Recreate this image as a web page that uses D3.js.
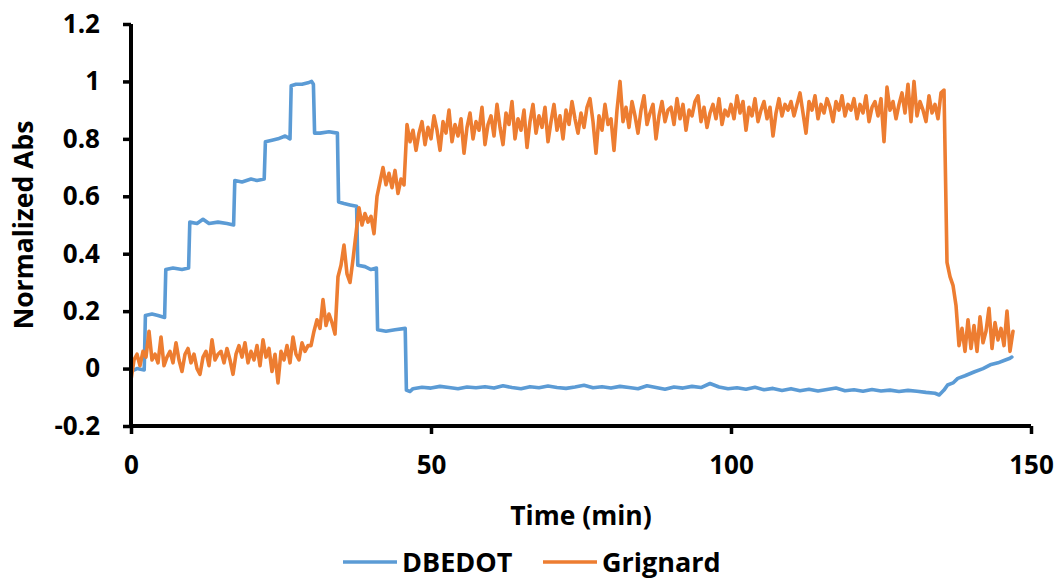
<!DOCTYPE html>
<html><head><meta charset="utf-8">
<script src="https://cdn.jsdelivr.net/npm/d3@7"></script>
<style>
body{margin:0;background:#fff}
svg{display:block}
text{font-family:'Open Sans',sans-serif;font-weight:700;fill:#000}
</style>
</head><body>
<svg id="chart" width="1057" height="580"></svg>
<script>
// ---- data ----
const xTickValues = [0, 50, 100, 150];
const yTickValues = [-0.2, 0, 0.2, 0.4, 0.6, 0.8, 1, 1.2];
const yTickLabels = ["-0.2", "0", "0.2", "0.4", "0.6", "0.8", "1", "1.2"];
const seriesNames = ["DBEDOT", "Grignard"];
const xTitle = "Time (min)";
const yTitle = "Normalized Abs";

// DBEDOT: time (min) / normalized absorbance
const dbTime = [0, 1, 2.2, 2.4, 3.5, 4.5, 5.6, 5.8, 7, 8.5, 9.6, 9.8, 11, 12, 13, 14.5, 16, 17.1, 17.3, 18.5, 20, 21, 22.2, 22.4, 23.5, 24.5, 25.7, 26.5, 26.7, 27.5, 28.5, 29.5, 30.1, 30.4, 30.6, 31.5, 33, 34.4, 34.6, 35.5, 36.5, 37.6, 37.8, 39, 40, 40.9, 41.1, 42.5, 44, 45.7, 45.9,
  46.5, 47, 48.5, 50, 51.5, 53, 54.5, 56, 57.5, 59, 60.5, 62, 63.5, 65, 66.5, 68, 69.5, 71, 72.5, 74, 75.5, 77, 78.5, 80, 81.5, 83, 84.5, 86, 87.5, 89, 90.5, 92, 93.5, 95, 96.5, 98, 99.5,
  101, 102.5, 104, 105.5, 107, 108.5, 110, 111.5, 113, 114.5, 116, 117.5, 119, 120.5, 122, 123.5, 125, 126.5, 128, 129.5, 131, 132.5, 134, 134.7, 135.5, 136.1, 137, 137.8, 139, 140.6, 142, 143.2, 144.5, 145.5, 146.5, 146.8];
const dbValue = [-0.01, 0.0, -0.005, 0.185, 0.19, 0.185, 0.178, 0.345, 0.35, 0.345, 0.35, 0.51, 0.505, 0.52, 0.505, 0.51, 0.505, 0.50, 0.655, 0.65, 0.66, 0.655, 0.66, 0.79, 0.795, 0.80, 0.81, 0.80, 0.985, 0.99, 0.99, 0.995, 1.0, 0.99, 0.82, 0.82, 0.825, 0.82, 0.58, 0.575, 0.57, 0.565, 0.36, 0.355, 0.345, 0.35, 0.135, 0.13, 0.135, 0.14, -0.075,
  -0.08, -0.07, -0.065, -0.068, -0.062, -0.066, -0.07, -0.064, -0.067, -0.063, -0.068, -0.06, -0.066, -0.07, -0.063, -0.067, -0.061, -0.066, -0.069, -0.064, -0.058, -0.067, -0.063, -0.068, -0.062, -0.066, -0.07, -0.06, -0.066, -0.072, -0.064, -0.068, -0.062, -0.066, -0.052, -0.064, -0.07,
  -0.067, -0.072, -0.065, -0.074, -0.069, -0.076, -0.07, -0.077, -0.072, -0.078, -0.073, -0.068, -0.077, -0.074, -0.079, -0.073, -0.078, -0.075, -0.08, -0.076, -0.079, -0.083, -0.086, -0.092, -0.075, -0.057, -0.05, -0.034, -0.025, -0.011, 0.0, 0.013, 0.02, 0.028, 0.036, 0.04];

// Grignard: sampled every 0.5 min from t = 0
const grStart = 0, grStep = 0.5;
const grValue = [
  -0.04, 0.03, 0.05, 0.01, 0.06, 0.04, 0.13, 0.03, 0.05, 0.02,
  0.11, 0.01, 0.04, 0.06, 0.02, 0.09, 0.03, -0.01, 0.05, 0.07,
  0.02, 0.05, 0.00, -0.02, 0.04, 0.06, 0.01, 0.10, 0.03, 0.05,
  0.06, 0.02, 0.07, 0.03, -0.02, 0.05, 0.08, 0.04, 0.09, 0.02,
  0.06, 0.03, 0.08, 0.01, 0.10, 0.04, 0.07, -0.01, 0.05, -0.05,
  0.06, 0.03, 0.08, 0.02, 0.11, 0.05, 0.03, 0.09, 0.06, 0.08,
  0.08, 0.13, 0.17, 0.14, 0.24, 0.15, 0.19, 0.16, 0.12, 0.32,
  0.36, 0.43, 0.33, 0.30, 0.38, 0.47, 0.56, 0.50, 0.54, 0.51,
  0.53, 0.47, 0.60, 0.65, 0.70, 0.64, 0.68, 0.63, 0.69, 0.61,
  0.66, 0.64, 0.85, 0.79, 0.83, 0.76, 0.82, 0.86, 0.78, 0.84,
  0.80, 0.88, 0.83, 0.76, 0.86, 0.82, 0.90, 0.79, 0.85, 0.81,
  0.87, 0.75, 0.84, 0.89, 0.80, 0.86, 0.83, 0.91, 0.78, 0.85,
  0.88, 0.81, 0.92, 0.84, 0.78, 0.89, 0.85, 0.93, 0.80, 0.87,
  0.83, 0.90, 0.77, 0.86, 0.92, 0.82, 0.88, 0.84, 0.91, 0.79,
  0.86, 0.92, 0.83, 0.88, 0.80, 0.90, 0.85, 0.93, 0.87, 0.82,
  0.89, 0.84, 0.91, 0.94, 0.86, 0.75, 0.88, 0.83, 0.92, 0.85,
  0.87, 0.76, 0.90, 1.00, 0.86, 0.91, 0.84, 0.93, 0.88, 0.82,
  0.90, 0.95, 0.85, 0.89, 0.92, 0.80, 0.88, 0.93, 0.86, 0.90,
  0.91, 0.85, 0.94, 0.87, 0.92, 0.83, 0.90, 0.88, 0.93, 0.95,
  0.86, 0.91, 0.84, 0.89, 0.92, 0.87, 0.94, 0.85, 0.90, 0.88,
  0.92, 0.87, 0.95, 0.89, 0.93, 0.83, 0.91, 0.88, 0.94, 0.86,
  0.90, 0.93, 0.87, 0.91, 0.81, 0.89, 0.94, 0.88, 0.92, 0.90,
  0.93, 0.88, 0.92, 0.96, 0.89, 0.82, 0.93, 0.90, 0.95, 0.87,
  0.92, 0.89, 0.94, 0.91, 0.86, 0.93, 0.90, 0.95, 0.88, 0.92,
  0.90, 0.94, 0.87, 0.92, 0.89, 0.95, 0.86, 0.91, 0.93, 0.88,
  0.94, 0.79, 0.98, 0.90, 0.93, 0.87, 0.92, 0.96, 0.89, 0.99,
  0.86, 1.00, 0.88, 0.93, 0.90, 0.86, 0.95, 0.89, 0.92, 0.87,
  0.96, 0.97, 0.37, 0.32, 0.29, 0.22, 0.08, 0.14, 0.06, 0.17,
  0.07, 0.15, 0.06, 0.18, 0.09, 0.13, 0.21, 0.07, 0.16, 0.10,
  0.14, 0.08, 0.20, 0.06, 0.13
];

// ---- drawing ----
const colors = ["#5B9BD5", "#ED7D31"];
const svg = d3.select("#chart");
const x = d3.scaleLinear().domain([0, 150]).range([131, 1031]);
const y = d3.scaleLinear().domain([-0.2, 1.2]).range([426, 24]);

const dbData = dbTime.map((t, i) => [t, dbValue[i]]);
const grData = grValue.map((v, i) => [grStart + i * grStep, v]);

const line = d3.line().x(d => x(d[0])).y(d => y(d[1]));

svg.append("path").datum(dbData).attr("d", line)
  .attr("fill", "none").attr("stroke", colors[0]).attr("stroke-width", 3.6)
  .attr("stroke-linejoin", "round").attr("stroke-linecap", "round");
svg.append("path").datum(grData).attr("d", line)
  .attr("fill", "none").attr("stroke", colors[1]).attr("stroke-width", 3.6)
  .attr("stroke-linejoin", "round").attr("stroke-linecap", "round");

// axes
const yAxis = d3.axisLeft(y).tickValues(yTickValues)
  .tickFormat((d, i) => yTickLabels[i]).tickSize(8).tickSizeOuter(0).tickPadding(23);
const gy = svg.append("g").attr("transform", "translate(131,0)").call(yAxis);
const xAxis = d3.axisBottom(x).tickValues(xTickValues)
  .tickFormat(d => String(d)).tickSize(8).tickSizeOuter(0).tickPadding(22);
const gx = svg.append("g").attr("transform", "translate(0,426)").call(xAxis);

[gx, gy].forEach(g => {
  g.select(".domain").attr("stroke", "#000").attr("stroke-width", 4);
  g.selectAll(".tick line").attr("stroke", "#000").attr("stroke-width", 3.5);
  g.selectAll(".tick text").style("font-family", "'Open Sans',sans-serif")
    .style("font-weight", 700).style("font-size", "26px").attr("fill", "#000");
});
gx.select(".domain").attr("d", "M129,0H1031");
gy.select(".domain").attr("d", "M0,24V428");

// titles
svg.append("text").attr("x", 581).attr("y", 525).attr("text-anchor", "middle")
  .style("font-size", "26.5px").text(xTitle);
svg.append("text").attr("transform", "translate(33,225) rotate(-90)")
  .attr("text-anchor", "middle").style("font-size", "26.5px").text(yTitle);

// legend
const legendItems = [
  {name: seriesNames[0], color: colors[0], x0: 343},
  {name: seriesNames[1], color: colors[1], x0: 543}
];
legendItems.forEach(it => {
  svg.append("line").attr("x1", it.x0).attr("x2", it.x0 + 54)
    .attr("y1", 562).attr("y2", 562).attr("stroke", it.color).attr("stroke-width", 3.6);
  svg.append("text").attr("x", it.x0 + 59).attr("y", 572)
    .style("font-size", "27px").text(it.name);
});
</script>
</body></html>
